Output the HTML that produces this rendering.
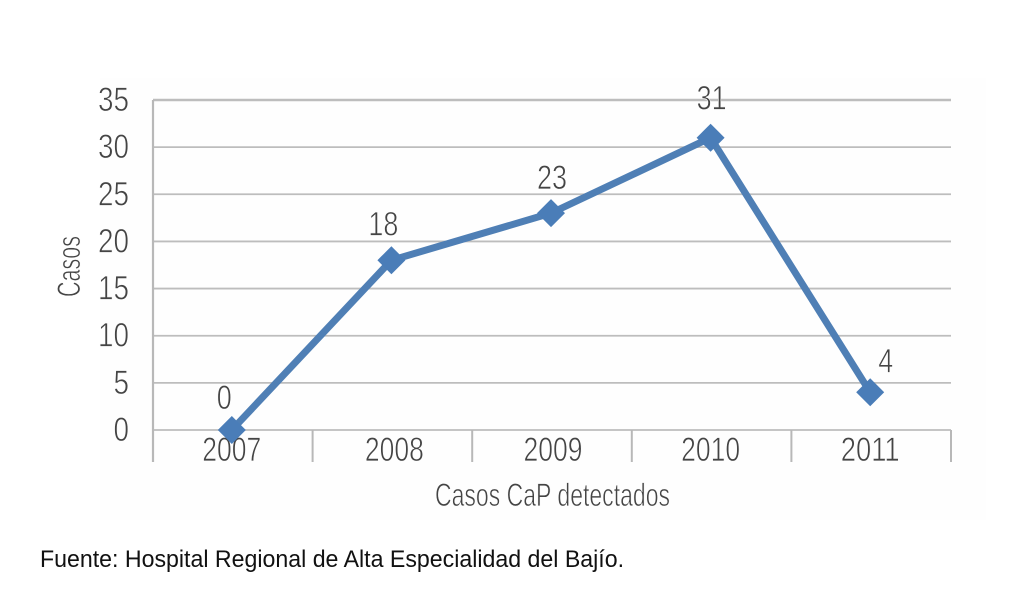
<!DOCTYPE html>
<html>
<head>
<meta charset="utf-8">
<style>
html,body{margin:0;padding:0;background:#fff;}
svg{display:block;}
text{font-family:"Liberation Sans",sans-serif;}
.thin{stroke:#fdfdfd;stroke-width:0.7px;paint-order:normal;}
</style>
</head>
<body>
<svg id="chart" width="1016" height="590" viewBox="0 0 1016 590" xmlns="http://www.w3.org/2000/svg">
  <rect x="100" y="78" width="886" height="442" fill="#fefefe"/>
  <g id="grid"></g>
  <g id="yticks"></g>
  <g id="xticks"></g>
  <g id="series"></g>
  <text class="thin" transform="translate(80,297) rotate(-90)" font-size="32" fill="#444" textLength="61" lengthAdjust="spacingAndGlyphs">Casos</text>
  <text class="thin" x="435" y="506" font-size="32" fill="#444" textLength="235" lengthAdjust="spacingAndGlyphs">Casos CaP detectados</text>
  <text x="40" y="567" font-size="24" fill="#111" textLength="584" lengthAdjust="spacingAndGlyphs">Fuente: Hospital Regional de Alta Especialidad del Bajío.</text>
</svg>
<script>
const categories = ['2007', '2008', '2009', '2010', '2011'];
const caseValues = [0, 18, 23, 31, 4];
const yTickLabels = [0, 5, 10, 15, 20, 25, 30, 35];

const NS = 'http://www.w3.org/2000/svg';
const plotLeft = 153, plotRight = 951, plotTop = 100, plotBottom = 430, yMax = 35;
const yScale = v => plotBottom - (v / yMax) * (plotBottom - plotTop);
const bandWidth = (plotRight - plotLeft) / categories.length;
const xScale = i => plotLeft + bandWidth * i + bandWidth / 2 - 1;

function make(parent, tag, attrs, content) {
  const el = document.createElementNS(NS, tag);
  for (const k in attrs) el.setAttribute(k, attrs[k]);
  if (content !== undefined) el.textContent = content;
  parent.appendChild(el);
  return el;
}

const grid = document.getElementById('grid');
const yticks = document.getElementById('yticks');
const xticks = document.getElementById('xticks');
const series = document.getElementById('series');

yTickLabels.forEach(t => {
  const line = make(grid, 'line', {x1: plotLeft, x2: plotRight, y1: yScale(t), y2: yScale(t), stroke: '#bdbdbd', 'stroke-width': t === yMax ? 2.4 : 1.8});
  
  
  const label = String(t);
  const w = label.length * 15.5;
  const lab = make(yticks, 'text', {class: 'thin', x: 129 - w, y: yScale(t) + 11, 'font-size': 34, fill: '#444', textLength: w, lengthAdjust: 'spacingAndGlyphs'}, label);
  
  
});

const axisLine = make(xticks, 'line', {x1: plotLeft, x2: plotLeft, y1: plotTop, y2: plotBottom + 32, stroke: '#b8b8b8', 'stroke-width': 2.2});



categories.forEach((c, i) => {
  const tx = plotLeft + bandWidth * (i + 1);
  const tick = make(xticks, 'line', {x1: tx, x2: tx, y1: plotBottom, y2: plotBottom + 32, stroke: '#b8b8b8', 'stroke-width': 2});
  
  
  const nudge = i === 1 ? 3 : i === 2 ? 2 : 0;
  const lab = make(xticks, 'text', {class: 'thin', x: xScale(i) - 29.5 + nudge, y: plotBottom + 31, 'font-size': 34, fill: '#444', textLength: 59, lengthAdjust: 'spacingAndGlyphs'}, c);
  
  
});

const pts = caseValues.map((v, i) => xScale(i) + ',' + yScale(v)).join(' ');
const trend = make(series, 'polyline', {points: pts, fill: 'none', stroke: '#4f7fb5', 'stroke-width': 7, 'stroke-linejoin': 'round'});



caseValues.forEach((v, i) => {
  const x = xScale(i), y = yScale(v), r = 14;
  const marker = make(series, 'polygon', {points: [[x, y - r], [x + r, y], [x, y + r], [x - r, y]].map(p => p.join(',')).join(' '), fill: '#4a7db8'});
  
  
  const label = String(v);
  const w = label.length * 15;
  const dx = i === 0 ? -15 : i === 1 ? -23 : i === 4 ? 8 : -14;
  const dy = i === 0 ? -21 : i === 1 ? -25 : i === 2 ? -24 : i === 3 ? -28 : -20;
  const lab = make(series, 'text', {class: 'thin', x: x + dx, y: y + dy, 'font-size': 34, fill: '#444', textLength: w, lengthAdjust: 'spacingAndGlyphs'}, label);
  
  
});
</script>
</body>
</html>
